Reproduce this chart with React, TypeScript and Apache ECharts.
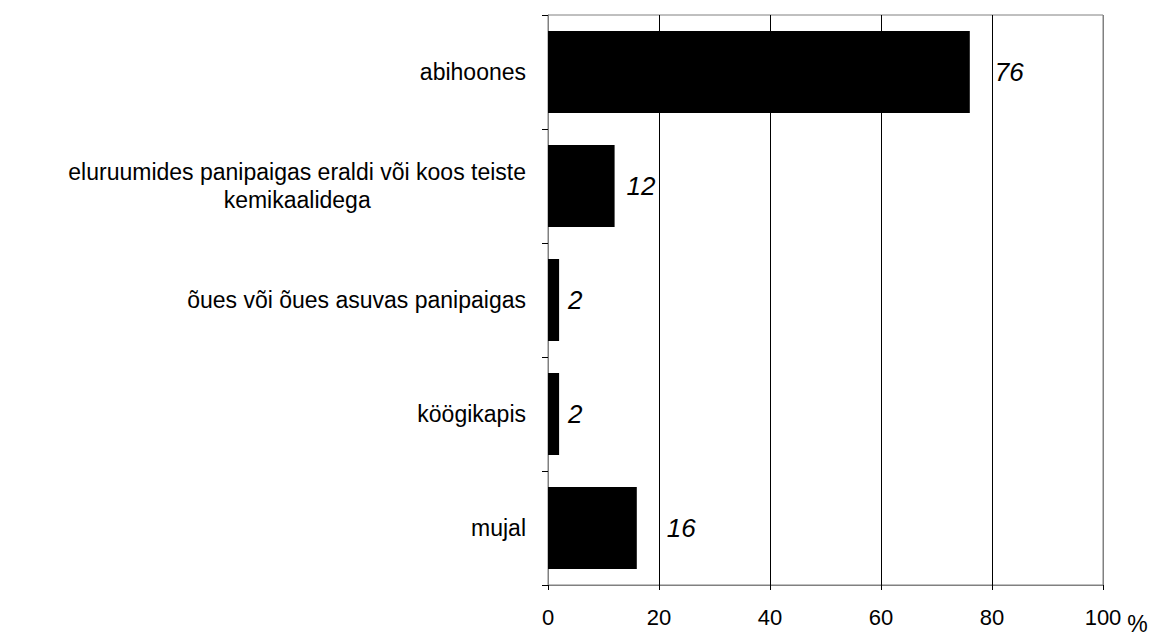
import React, { useEffect, useRef } from "react";
import * as echarts from "echarts";

const categories = [
  "abihoones",
  "eluruumides panipaigas eraldi või koos teiste\nkemikaalidega",
  "õues või õues asuvas panipaigas",
  "köögikapis",
  "mujal",
];
const values = [76, 12, 2, 2, 16];
const axisMin = 0;
const axisMax = 100;
const axisStep = 20;
const unitLabel = "%";
const labelDistances = [25, 12, 9, 9, 30];

const FONT = "'Liberation Sans', Arial, sans-serif";

export default function App() {
  const ref = useRef<HTMLDivElement>(null);
  useEffect(() => {
    if (!ref.current) return;
    const chart = echarts.init(ref.current, null, { renderer: "svg" });
    chart.setOption({
      animation: false,
      backgroundColor: "#ffffff",
      textStyle: { fontFamily: FONT },
      grid: {
        left: 548,
        top: 15,
        right: 50,
        bottom: 45,
        show: true,
        borderColor: "#808080",
        borderWidth: 1,
        containLabel: false,
      },
      xAxis: {
        type: "value",
        min: axisMin,
        max: axisMax,
        interval: axisStep,
        name: unitLabel,
        nameLocation: "end",
        nameGap: 24,
        nameTextStyle: {
          fontFamily: FONT,
          fontSize: 23,
          color: "#000",
          align: "left",
          verticalAlign: "top",
          padding: [27, 0, 0, 0],
        },
        axisLine: { show: true, lineStyle: { color: "#808080", width: 1 } },
        axisTick: { show: true, length: 5, lineStyle: { color: "#000" } },
        axisLabel: { fontFamily: FONT, fontSize: 22, color: "#000", margin: 21 },
        splitLine: {
          show: true,
          lineStyle: {
            color: ["#808080", "#000", "#000", "#000", "#000", "#808080"],
            width: 1,
          },
        },
      },
      yAxis: {
        type: "category",
        inverse: true,
        data: categories,
        axisLine: { show: true, lineStyle: { color: "#808080", width: 1 } },
        axisTick: { show: true, length: 6, lineStyle: { color: "#000" } },
        axisLabel: {
          margin: 22,
          color: "#000",
          fontFamily: FONT,
          fontSize: 23,
          formatter: (v: string) =>
            v
              .split("\n")
              .map((s) => `{c|${s}}`)
              .join("\n"),
          rich: {
            c: {
              align: "center",
              fontFamily: FONT,
              fontSize: 23,
              lineHeight: 28,
              color: "#000",
            },
          },
        },
        splitLine: { show: false },
      },
      series: [
        {
          type: "bar",
          barWidth: 82,
          itemStyle: { color: "#000" },
          label: {
            show: true,
            position: "right",
            fontFamily: FONT,
            fontStyle: "italic",
            fontSize: 26,
            color: "#000",
          },
          data: values.map((v, i) => ({
            value: v,
            label: { distance: labelDistances[i] },
          })),
        },
      ],
    });
    return () => chart.dispose();
  }, []);
  return (
    <div
      ref={ref}
      style={{ position: "fixed", left: 0, top: 0, width: 1153, height: 635 }}
    />
  );
}
